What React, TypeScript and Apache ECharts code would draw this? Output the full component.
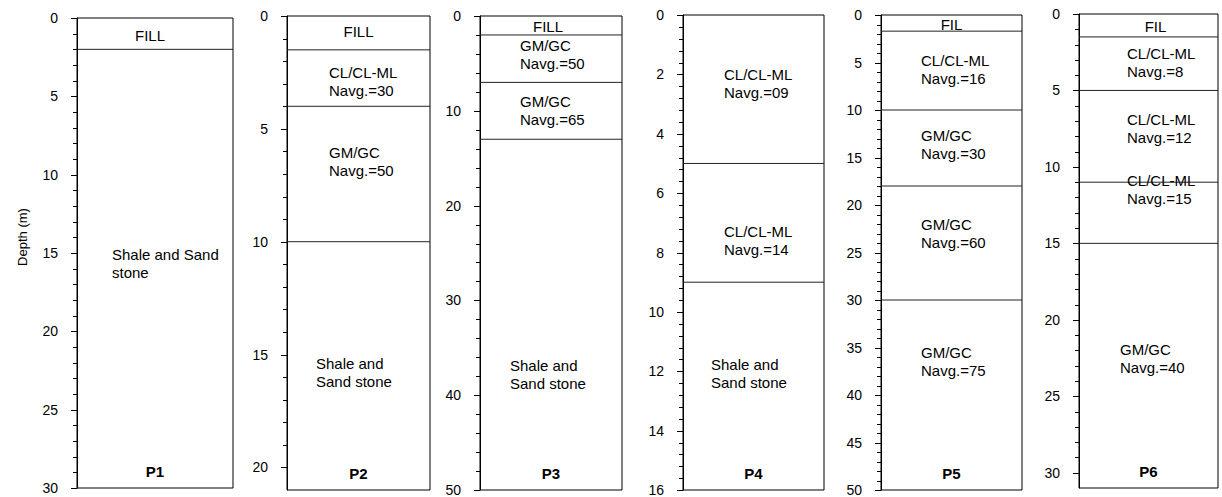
import React, { useEffect, useRef } from "react";
import * as echarts from "echarts";

// ---------- DATA ----------
const PANEL_NAMES = ["P1", "P2", "P3", "P4", "P5", "P6"];
const AXIS_MAX = [30, 21, 50, 16, 50, 31];
const MAJOR_TICKS = [
  [0, 5, 10, 15, 20, 25, 30],
  [0, 5, 10, 15, 20],
  [0, 10, 20, 30, 40, 50],
  [0, 2, 4, 6, 8, 10, 12, 14, 16],
  [0, 5, 10, 15, 20, 25, 30, 35, 40, 45, 50],
  [0, 5, 10, 15, 20, 25, 30],
];
const MINOR_SPLIT = [5, 5, 5, 5, 5, 5];

// layer boundaries (depth, m)
const P1_BOUNDS = [0, 2, 30];
const P2_BOUNDS = [0, 1.5, 4, 10, 21];
const P3_BOUNDS = [0, 2, 7, 13, 50];
const P4_BOUNDS = [0, 5, 9, 16];
const P5_BOUNDS = [0, 1.7, 10, 18, 30, 50];
const P6_BOUNDS = [0, 1.5, 5, 11, 15, 31];

const P1_LABELS = ["FILL", "Shale and Sand\nstone"];
const P2_LABELS = ["FILL", "CL/CL-ML\nNavg.=30", "GM/GC\nNavg.=50", "Shale and\nSand stone"];
const P3_LABELS = ["FILL", "GM/GC\nNavg.=50", "GM/GC\nNavg.=65", "Shale and\nSand stone"];
const P4_LABELS = ["CL/CL-ML\nNavg.=09", "CL/CL-ML\nNavg.=14", "Shale and\nSand stone"];
const P5_LABELS = ["FIL", "CL/CL-ML\nNavg.=16", "GM/GC\nNavg.=30", "GM/GC\nNavg.=60", "GM/GC\nNavg.=75"];
const P6_LABELS = ["FIL", "CL/CL-ML\nNavg.=8", "CL/CL-ML\nNavg.=12", "CL/CL-ML\nNavg.=15", "GM/GC\nNavg.=40"];

// depth at which each layer description is written
const P1_LABEL_DEPTH = [1.1, 15.7];
const P2_LABEL_DEPTH = [0.7, 2.9, 6.45, 15.8];
const P3_LABEL_DEPTH = [1.15, 4.05, 10.0, 37.8];
const P4_LABEL_DEPTH = [2.32, 7.6, 12.06];
const P5_LABEL_DEPTH = [0.95, 5.74, 13.58, 22.95, 36.5];
const P6_LABEL_DEPTH = [0.85, 3.14, 7.52, 11.45, 22.56];

const BOUNDS = [P1_BOUNDS, P2_BOUNDS, P3_BOUNDS, P4_BOUNDS, P5_BOUNDS, P6_BOUNDS];
const LABELS = [P1_LABELS, P2_LABELS, P3_LABELS, P4_LABELS, P5_LABELS, P6_LABELS];
const LABEL_DEPTH = [P1_LABEL_DEPTH, P2_LABEL_DEPTH, P3_LABEL_DEPTH, P4_LABEL_DEPTH, P5_LABEL_DEPTH, P6_LABEL_DEPTH];

// ---------- LAYOUT / STYLE ----------
const GRIDS = [
  { left: 77, top: 18, width: 156, height: 470 },
  { left: 287, top: 16, width: 143, height: 474 },
  { left: 480, top: 16, width: 142, height: 474 },
  { left: 683, top: 15, width: 141, height: 475 },
  { left: 881, top: 15, width: 141, height: 475 },
  { left: 1079, top: 14, width: 139, height: 474 },
];
type Lay = { align: "left" | "center"; dx: number };
const C = (dx: number): Lay => ({ align: "center", dx });
const L = (dx: number): Lay => ({ align: "left", dx });
const LABEL_X: Lay[][] = [
  [C(-5), L(35)],
  [C(0), L(42), L(42), L(29)],
  [C(-3), L(40), L(40), L(30)],
  [L(41), L(41), L(28)],
  [C(0), L(40), L(40), L(40), L(40)],
  [C(7), L(48), L(48), L(48), L(41)],
];
const FONT = 'Arial, "Liberation Sans", sans-serif';
const MAJOR_LEN = 6;
const MINOR_LEN = 4;

export default function App() {
  const ref = useRef<HTMLDivElement>(null);
  useEffect(() => {
    if (!ref.current) return;
    const chart = echarts.init(ref.current, undefined, { renderer: "svg" });
    const layerSeries = PANEL_NAMES.map((_, i) => {
      const b = BOUNDS[i];
      const data = b.slice(0, -1).map((top, k) => [top, b[k + 1], LABEL_DEPTH[i][k]]);
      return {
        type: "custom",
        xAxisIndex: i,
        yAxisIndex: i,
        data,
        encode: { y: [0, 1, 2] },
        renderItem: (params: any, api: any) => {
          const bottom = api.value(1);
          const ld = api.value(2);
          const a = api.coord([0, bottom]);
          const c = api.coord([1, bottom]);
          const la = api.coord([0, ld]);
          const lc = api.coord([1, ld]);
          const children: any[] = [];
          if (bottom < AXIS_MAX[i]) {
            children.push({
              type: "line",
              shape: { x1: a[0], y1: a[1], x2: c[0], y2: c[1] },
              style: { stroke: "#222", lineWidth: 1 },
            });
          }
          const lay = LABEL_X[i][params.dataIndex];
          const x = lay.align === "center" ? (la[0] + lc[0]) / 2 + lay.dx : la[0] + lay.dx;
          children.push({
            type: "text",
            x,
            y: la[1],
            style: {
              text: LABELS[i][params.dataIndex],
              align: lay.align,
              verticalAlign: "middle",
              fontSize: 15,
              lineHeight: 18,
              fill: "#000",
              fontFamily: FONT,
            },
          });
          return { type: "group", children };
        },
      };
    });
    const baseGraphic: any[] = [
      ...GRIDS.map((g, i) => ({
        type: "text",
        x: g.left + g.width / 2,
        y: g.top + g.height - 17,
        style: {
          text: PANEL_NAMES[i],
          align: "center",
          verticalAlign: "middle",
          fontSize: 15,
          fontWeight: "bold",
          fill: "#000",
          fontFamily: FONT,
        },
      })),
      {
        type: "text",
        x: 22,
        y: 237,
        rotation: Math.PI / 2,
        style: {
          text: "Depth (m)",
          align: "center",
          verticalAlign: "middle",
          fontSize: 13,
          fill: "#000",
          fontFamily: FONT,
        },
      },
    ];
    const option: any = {
      animation: false,
      grid: GRIDS.map((g) => ({
        ...g,
        show: true,
        borderColor: "#000",
        borderWidth: 1,
        backgroundColor: "transparent",
        containLabel: false,
      })),
      xAxis: PANEL_NAMES.map((_, i) => ({ type: "value", gridIndex: i, min: 0, max: 1, show: false })),
      yAxis: PANEL_NAMES.map((_, i) => ({
        type: "value",
        gridIndex: i,
        inverse: true,
        min: 0,
        max: AXIS_MAX[i],
        interval: MAJOR_TICKS[i][1] - MAJOR_TICKS[i][0],
        axisLine: { show: true, onZero: false, lineStyle: { color: "#000", width: 1 } },
        axisTick: { show: false },
        minorTick: { show: false },
        axisLabel: {
          show: true,
          margin: 19,
          fontSize: 14,
          color: "#000",
          fontFamily: FONT,
          formatter: (v: number) => (MAJOR_TICKS[i].includes(v) ? String(v) : ""),
        },
        splitLine: { show: false },
        minorSplitLine: { show: false },
      })),
      series: layerSeries,
      graphic: baseGraphic,
    };
    chart.setOption(option);

    // tick marks placed through the library's own axis scales
    const tickEls: any[] = [];
    PANEL_NAMES.forEach((_, i) => {
      const g = GRIDS[i];
      let xp: any = chart.convertToPixel({ xAxisIndex: i } as any, 0);
      if (Array.isArray(xp)) xp = xp[0];
      const x0 = Number.isFinite(xp) ? Math.round(xp) : g.left;
      const major = MAJOR_TICKS[i];
      const step = (major[1] - major[0]) / MINOR_SPLIT[i];
      for (let k = 0; k * step <= AXIS_MAX[i] + 1e-9; k++) {
        const v = Math.round(k * step * 1e6) / 1e6;
        const isMajor = major.includes(v);
        if (!isMajor && v >= AXIS_MAX[i]) continue;
        let yp: any = chart.convertToPixel({ yAxisIndex: i } as any, v);
        if (Array.isArray(yp)) yp = yp[1];
        const y = Number.isFinite(yp) ? Math.round(yp) : Math.round(g.top + (v / AXIS_MAX[i]) * g.height);
        const len = isMajor ? MAJOR_LEN : MINOR_LEN;
        tickEls.push({
          type: "rect",
          z: 100,
          silent: true,
          shape: { x: x0 - len, y: y, width: len, height: 1 },
          style: { fill: "#000" },
        });
      }
    });
    chart.setOption({ graphic: [...baseGraphic, ...tickEls] });
    return () => chart.dispose();
  }, []);
  return (
    <div
      ref={ref}
      style={{ position: "fixed", left: 0, top: 0, width: 1222, height: 497, background: "#fff" }}
    />
  );
}
